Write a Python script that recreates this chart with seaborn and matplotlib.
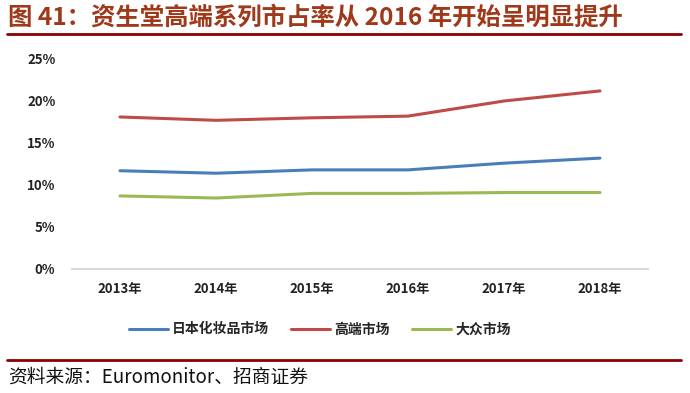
import matplotlib
matplotlib.use('Agg')
import matplotlib.pyplot as plt
import seaborn as sns
import pandas as pd

years = ['2013年', '2014年', '2015年', '2016年', '2017年', '2018年']
japan_market = [11.7, 11.4, 11.8, 11.8, 12.6, 13.2]
premium_market = [18.1, 17.7, 18.0, 18.2, 20.0, 21.2]
mass_market = [8.7, 8.45, 9.0, 9.0, 9.1, 9.1]
series_names = ['日本化妆品市场', '高端市场', '大众市场']
colors = ['#4A7EBB', '#BE4B48', '#98B954']

sns.set_theme(style='white')
plt.rcParams['font.family'] = ['Noto Sans CJK SC', 'DejaVu Sans']
plt.rcParams['axes.unicode_minus'] = False

df = pd.DataFrame({'year': years * 3,
                   'value': japan_market + premium_market + mass_market,
                   'series': [s for s in series_names for _ in years]})

fig = plt.figure(figsize=(6.9, 3.93), dpi=100)
ax = fig.add_axes([72 / 690, 1 - 269 / 393, 576 / 690, 210 / 393])

sns.lineplot(data=df, x='year', y='value', hue='series', palette=colors,
             hue_order=series_names, linewidth=2.2, ax=ax, sort=False)

ax.set_xlim(-0.5, 5.5)
ax.set_ylim(0, 25)
ax.set_yticks([0, 5, 10, 15, 20, 25])
ax.set_yticklabels([f'{v}%' for v in [0, 5, 10, 15, 20, 25]])
ax.set_xlabel('')
ax.set_ylabel('')
for side in ['top', 'right', 'left']:
    ax.spines[side].set_visible(False)
ax.spines['bottom'].set_color('#D9D9D9')
ax.spines['bottom'].set_linewidth(1.5)
ax.tick_params(axis='both', length=0, labelsize=9.5, colors='#222222')
ax.tick_params(axis='x', pad=9)
ax.tick_params(axis='y', pad=12)
for lab in ax.get_xticklabels() + ax.get_yticklabels():
    lab.set_fontweight('bold')

ax.legend(loc='upper center', bbox_to_anchor=(0.43, -0.195), ncol=3,
          frameon=False, handlelength=2.8, handletextpad=0.3, columnspacing=1.6,
          prop={'size': 10, 'weight': 'bold'})

fig.text(8 / 690, 1 - 18 / 393, '图 41：资生堂高端系列市占率从 2016 年开始呈明显提升',
         fontsize=17.6, fontweight='bold', color='#A0381A', va='center')
fig.add_artist(plt.Line2D([7 / 690, 681 / 690], [1 - 34 / 393] * 2, color='#8B0000', lw=2))
fig.add_artist(plt.Line2D([7 / 690, 681 / 690], [1 - 359.5 / 393] * 2, color='#8B0000', lw=2))
fig.text(8 / 690, 1 - 377 / 393, '资料来源：Euromonitor、招商证券',
         fontsize=13.5, color='#111111', va='center')

fig.savefig('out.png', dpi=100)
